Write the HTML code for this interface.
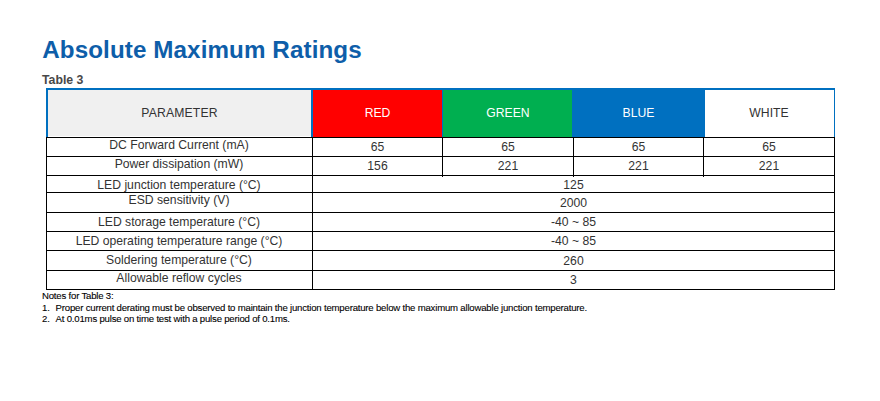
<!DOCTYPE html>
<html><head><meta charset="utf-8"><style>
html,body{margin:0;padding:0;background:#fff;}
body{width:880px;height:401px;position:relative;overflow:hidden;font-family:"Liberation Sans",sans-serif;}
.t{position:absolute;line-height:0;white-space:nowrap;}
.r{position:absolute;}
</style></head><body>
<div class="t" style="left:42.2px;width:500px;top:49.61px;font-size:24.2px;color:#0E5EA9;text-align:left;font-weight:bold;letter-spacing:0.1px;">Absolute Maximum Ratings</div>
<div class="t" style="left:42px;width:200px;top:79.74px;font-size:12.3px;color:#484848;text-align:left;font-weight:bold;">Table 3</div>
<div class="r" style="left:48px;top:90px;width:263px;height:46px;background:#F0F0F0"></div>
<div class="r" style="left:46px;top:136px;width:266px;height:1px;background:#FFFFFF"></div>
<div class="r" style="left:313px;top:90px;width:129px;height:47px;background:#FF0000"></div>
<div class="r" style="left:443px;top:90px;width:129px;height:47px;background:#00AF50"></div>
<div class="r" style="left:572px;top:90px;width:133px;height:47px;background:#0070C0"></div>
<div class="r" style="left:46px;top:88px;width:789px;height:2px;background:#0070C0"></div>
<div class="r" style="left:46px;top:88px;width:2px;height:49px;background:#0070C0"></div>
<div class="r" style="left:311px;top:88px;width:2px;height:49px;background:#0070C0"></div>
<div class="r" style="left:442px;top:88px;width:1px;height:49px;background:#0070C0"></div>
<div class="r" style="left:834px;top:88px;width:1px;height:49px;background:#0070C0"></div>
<div class="t" style="left:46.5px;width:266px;top:113.47px;font-size:12.2px;color:#333;text-align:center;letter-spacing:0.15px;">PARAMETER</div>
<div class="t" style="left:312.5px;width:130px;top:113.47px;font-size:12.2px;color:#fff;text-align:center;">RED</div>
<div class="t" style="left:442.5px;width:131px;top:113.47px;font-size:12.2px;color:#fff;text-align:center;">GREEN</div>
<div class="t" style="left:573.5px;width:130px;top:113.47px;font-size:12.2px;color:#fff;text-align:center;">BLUE</div>
<div class="t" style="left:703.5px;width:131px;top:113.47px;font-size:12.2px;color:#333;text-align:center;">WHITE</div>
<div class="r" style="left:46px;top:137px;width:789px;height:1px;background:#000"></div>
<div class="r" style="left:46px;top:156px;width:789px;height:1px;background:#000"></div>
<div class="r" style="left:46px;top:175px;width:789px;height:1px;background:#000"></div>
<div class="r" style="left:46px;top:192px;width:789px;height:1px;background:#000"></div>
<div class="r" style="left:46px;top:212px;width:789px;height:1px;background:#000"></div>
<div class="r" style="left:46px;top:231px;width:789px;height:1px;background:#000"></div>
<div class="r" style="left:46px;top:250px;width:789px;height:1px;background:#000"></div>
<div class="r" style="left:46px;top:270px;width:789px;height:1px;background:#000"></div>
<div class="r" style="left:46px;top:289px;width:789px;height:1px;background:#000"></div>
<div class="r" style="left:46px;top:137px;width:1px;height:153px;background:#000"></div>
<div class="r" style="left:834px;top:137px;width:1px;height:153px;background:#000"></div>
<div class="r" style="left:312px;top:137px;width:1px;height:153px;background:#000"></div>
<div class="r" style="left:442px;top:137px;width:1px;height:40px;background:#000"></div>
<div class="r" style="left:573px;top:137px;width:1px;height:40px;background:#000"></div>
<div class="r" style="left:703px;top:137px;width:1px;height:40px;background:#000"></div>
<div class="t" style="left:46px;width:266px;top:144.77px;font-size:12.2px;color:#333;text-align:center;">DC Forward Current (mA)</div>
<div class="t" style="left:46px;width:266px;top:163.77px;font-size:12.2px;color:#333;text-align:center;">Power dissipation (mW)</div>
<div class="t" style="left:46px;width:266px;top:184.77px;font-size:12.2px;color:#333;text-align:center;">LED junction temperature (°C)</div>
<div class="t" style="left:46px;width:266px;top:199.77px;font-size:12.2px;color:#333;text-align:center;">ESD sensitivity (V)</div>
<div class="t" style="left:46px;width:266px;top:221.77px;font-size:12.2px;color:#333;text-align:center;">LED storage temperature (°C)</div>
<div class="t" style="left:46px;width:266px;top:240.77px;font-size:12.2px;color:#333;text-align:center;">LED operating temperature range (°C)</div>
<div class="t" style="left:46px;width:266px;top:259.77px;font-size:12.2px;color:#333;text-align:center;">Soldering temperature (°C)</div>
<div class="t" style="left:46px;width:266px;top:277.77px;font-size:12.2px;color:#333;text-align:center;">Allowable reflow cycles</div>
<div class="t" style="left:312.5px;width:130px;top:146.77px;font-size:12.2px;color:#333;text-align:center;">65</div>
<div class="t" style="left:442.5px;width:131px;top:146.77px;font-size:12.2px;color:#333;text-align:center;">65</div>
<div class="t" style="left:573.5px;width:130px;top:146.77px;font-size:12.2px;color:#333;text-align:center;">65</div>
<div class="t" style="left:703.5px;width:131px;top:146.77px;font-size:12.2px;color:#333;text-align:center;">65</div>
<div class="t" style="left:312.5px;width:130px;top:165.77px;font-size:12.2px;color:#333;text-align:center;">156</div>
<div class="t" style="left:442.5px;width:131px;top:165.77px;font-size:12.2px;color:#333;text-align:center;">221</div>
<div class="t" style="left:573.5px;width:130px;top:165.77px;font-size:12.2px;color:#333;text-align:center;">221</div>
<div class="t" style="left:703.5px;width:131px;top:165.77px;font-size:12.2px;color:#333;text-align:center;">221</div>
<div class="t" style="left:312.5px;width:522px;top:185.27px;font-size:12.2px;color:#333;text-align:center;">125</div>
<div class="t" style="left:312.5px;width:522px;top:203.27px;font-size:12.2px;color:#333;text-align:center;">2000</div>
<div class="t" style="left:312.5px;width:522px;top:221.77px;font-size:12.2px;color:#333;text-align:center;">-40 ~ 85</div>
<div class="t" style="left:312.5px;width:522px;top:241.07px;font-size:12.2px;color:#333;text-align:center;">-40 ~ 85</div>
<div class="t" style="left:312.5px;width:522px;top:260.77px;font-size:12.2px;color:#333;text-align:center;">260</div>
<div class="t" style="left:312.5px;width:522px;top:280.27px;font-size:12.2px;color:#333;text-align:center;">3</div>
<div class="t" style="left:42px;width:300px;top:295.67px;font-size:9.6px;color:#000;text-align:left;letter-spacing:-0.2px;-webkit-text-stroke:0.1px #000;">Notes for Table 3:</div>
<div class="t" style="left:42px;width:20px;top:307.87px;font-size:9.6px;color:#000;text-align:left;letter-spacing:-0.2px;-webkit-text-stroke:0.1px #000;">1.</div>
<div class="t" style="left:55.6px;width:700px;top:307.87px;font-size:9.6px;color:#000;text-align:left;letter-spacing:-0.2px;-webkit-text-stroke:0.1px #000;">Proper current derating must be observed to maintain the junction temperature below the maximum allowable junction temperature.</div>
<div class="t" style="left:42px;width:20px;top:318.67px;font-size:9.6px;color:#000;text-align:left;letter-spacing:-0.2px;-webkit-text-stroke:0.1px #000;">2.</div>
<div class="t" style="left:55.6px;width:700px;top:318.67px;font-size:9.6px;color:#000;text-align:left;letter-spacing:-0.2px;-webkit-text-stroke:0.1px #000;">At 0.01ms pulse on time test with a pulse period of 0.1ms.</div>
</body></html>
